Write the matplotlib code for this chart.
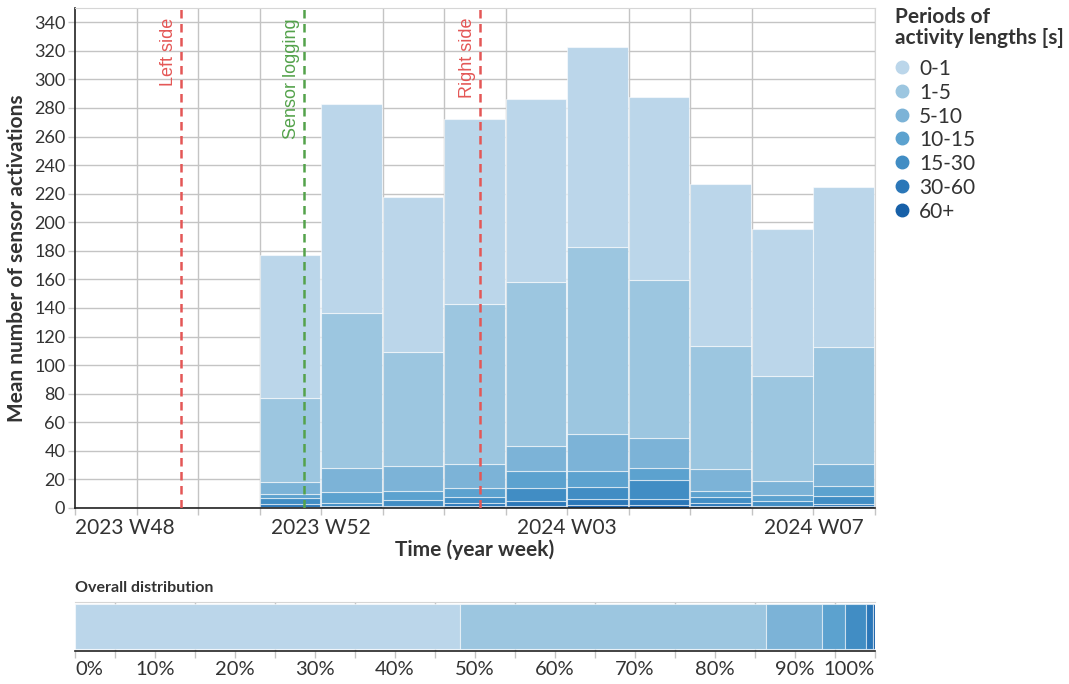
import matplotlib
matplotlib.use("Agg")
import matplotlib.pyplot as plt
import numpy as np
from matplotlib.lines import Line2D

# ---------------- data ----------------
categories = ["0-1", "1-5", "5-10", "10-15", "15-30", "30-60", "60+"]
colors = ["#bbd6ea", "#9cc6e0", "#7cb3d7", "#5ca2cf", "#418dc4", "#2b77b8", "#1760a8"]

week_index = [3, 4, 5, 6, 7, 8, 9, 10, 11, 12]          # weeks after 2023 W48
tick_pos = [0, 4, 8, 12]
tick_labels = ["2023 W48", "2023 W52", "2024 W03", "2024 W07"]

# mean activations per period length, one list per category (per week)
v_0_1   = [100.0, 146.7, 108.9, 129.9, 127.5, 140.6, 128.0, 113.7, 103.3, 112.4]
v_1_5   = [58.5, 108.1, 79.6, 111.7, 115.0, 130.5, 110.5, 85.8, 73.1, 81.5]
v_5_10  = [9.0, 17.3, 17.8, 16.7, 17.9, 26.3, 21.4, 15.8, 9.8, 15.3]
v_10_15 = [2.3, 7.4, 6.3, 6.7, 11.8, 11.1, 8.4, 4.2, 4.6, 7.2]
v_15_30 = [4.2, 2.4, 4.2, 4.3, 9.1, 8.4, 13.2, 4.2, 3.2, 5.4]
v_30_60 = [2.0, 0.8, 0.8, 1.6, 3.5, 3.8, 3.8, 2.1, 1.0, 1.3]
v_60p   = [1.0, 0.3, 0.4, 1.6, 1.2, 2.3, 2.3, 1.2, 0.5, 1.7]
series = [v_0_1, v_1_5, v_5_10, v_10_15, v_15_30, v_30_60, v_60p]

# overall distribution (percent)
overall_pct = [48.1, 38.3, 7.0, 2.85, 2.65, 0.85, 0.25]

# event markers (in weeks after 2023 W48)
rule_pos = [1.72, 3.72, 6.58]
rule_text = ["Left side", "Sensor logging", "Right side"]
rule_color = ["#e45756", "#54a24b", "#e45756"]

TXT = "#333333"
GRID = "#c4c4c4"
FONT = ["Lato", "DejaVu Sans"]
plt.rcParams["font.family"] = FONT

fig = plt.figure(figsize=(10.69, 6.84), dpi=100)
W, H = 1069, 684

def rect(l, t, r, b):
    return [l / W, 1 - b / H, (r - l) / W, (b - t) / H]

# ---------------- main chart ----------------
ax = fig.add_axes(rect(75, 8, 875, 508))
ax.set_xlim(0, 13)
ax.set_ylim(0, 350)
bottom = np.zeros(len(week_index))
for vals, col in zip(series[::-1], colors[::-1]):
    ax.bar(week_index, vals, width=0.985, bottom=bottom, align="edge",
           color=col, edgecolor=(1, 1, 1, 0.55), linewidth=0.8, zorder=2)
    bottom += np.array(vals)

ax.set_yticks(np.arange(0, 341, 20))
ax.set_xticks(np.arange(0, 14, 1), minor=True)
ax.set_xticks(tick_pos)
ax.set_xticklabels(tick_labels)
ax.grid(True, which="major", axis="y", color=GRID, lw=1, zorder=0)
ax.grid(True, which="minor", axis="x", color=GRID, lw=1, zorder=0)
ax.grid(False, which="major", axis="x")
ax.set_axisbelow(True)
ax.tick_params(axis="both", which="both", colors=GRID, labelcolor=TXT,
               labelsize=13, length=5, width=1, pad=2)
ax.tick_params(axis="x", which="major", length=5, pad=2, labelsize=15)
labs = ax.get_xticklabels()
labs[0].set_horizontalalignment("left")
for s in ["top", "right"]:
    ax.spines[s].set_color("#d6d6d6")
for s in ["left", "bottom"]:
    ax.spines[s].set_color("#222222")
    ax.spines[s].set_linewidth(1.2)
ax.set_ylabel("Mean number of sensor activations", fontsize=15,
              fontweight="bold", color=TXT, labelpad=5)
ax.set_xlabel("Time (year week)", fontsize=15, fontweight="bold",
              color=TXT, labelpad=1)

for xp, t, c in zip(rule_pos, rule_text, rule_color):
    ax.axvline(xp, color=c, lw=1.8, ls=(0, (3.4, 2.2)), zorder=3)
    ax.annotate(t, xy=(xp, 1), xycoords=("data", "axes fraction"),
                xytext=(-4, -10), textcoords="offset pixels",
                rotation=90, ha="right", va="top", color=c, fontsize=13,
                family=["Liberation Sans", "DejaVu Sans"])

# ---------------- legend ----------------
fig.text(895 / W, 1 - 7 / H, "Periods of\nactivity lengths [s]", ha="left",
         va="top", fontsize=15, fontweight="bold", color=TXT, linespacing=1.05)
for i, (cat, col) in enumerate(zip(categories, colors)):
    yc = 1 - (67 + i * 23.8) / H
    fig.add_artist(Line2D([902 / W], [yc], marker="o", markersize=9,
                          color=col, lw=0, transform=fig.transFigure))
    fig.text(919 / W, yc, cat, ha="left", va="center_baseline",
             fontsize=15, color=TXT)

# ---------------- overall distribution ----------------
ax2 = fig.add_axes(rect(75, 602, 875, 651))
ax2.set_xlim(0, 100)
ax2.set_ylim(0, 1)
left = 0.0
for p, col in zip(overall_pct, colors):
    ax2.barh(0.5, p, left=left, height=0.92, color=col,
             edgecolor=(1, 1, 1, 0.55), linewidth=0.8, zorder=2)
    left += p
ax2.set_yticks([])
ax2.set_xticks(np.arange(0, 101, 5), minor=True)
ax2.set_xticks(np.arange(0, 101, 10))
ax2.set_xticklabels([f"{v}%" for v in range(0, 101, 10)])
ax2.grid(True, which="minor", axis="x", color=GRID, lw=1, zorder=0)
ax2.set_axisbelow(True)
ax2.tick_params(axis="x", which="both", colors=GRID, labelcolor=TXT,
                labelsize=14.5, length=5, width=1, pad=2)
l2 = ax2.get_xticklabels()
l2[0].set_horizontalalignment("left")
l2[-1].set_horizontalalignment("right")
ax2.spines["top"].set_color("#d6d6d6")
ax2.spines["left"].set_visible(False)
ax2.spines["right"].set_visible(False)
ax2.spines["bottom"].set_color("#222222")
ax2.spines["bottom"].set_linewidth(1.2)
fig.text(75 / W, 1 - 588 / H, "Overall distribution", ha="left",
         va="center", fontsize=11.5, fontweight="bold", color=TXT)

fig.savefig("out.png", dpi=100)
